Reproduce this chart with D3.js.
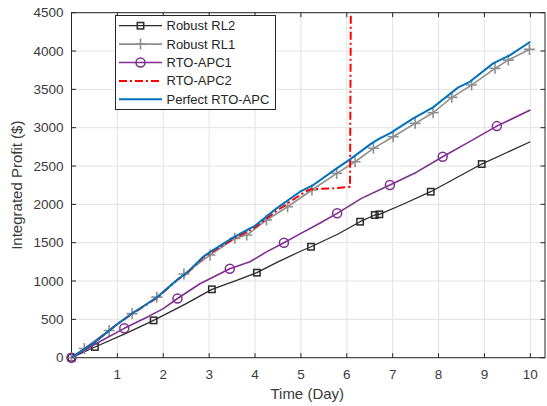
<!DOCTYPE html>
<html>
<head>
<meta charset="utf-8">
<script src="https://cdn.jsdelivr.net/npm/d3@7"></script>
<style>
  body { margin: 0; background: #fff; }
  text { font-family: "Liberation Sans", Arial, sans-serif; }
</style>
</head>
<body>
<svg id="chart"></svg>
<script>
// values: [day, profit]
const robustRL2 = [[0,0],[0.51,140],[1.2,320],[1.79,487],[2.5,705],[3.06,892],[3.6,1010],[4.04,1109],[4.5,1250],[4.98,1385],[5.22,1447],[5.8,1610],[6.29,1774],[6.61,1861],[6.71,1870],[7.2,1995],[7.83,2165],[8.4,2350],[8.94,2526],[9.5,2680],[10,2817]];
const robustRL2Marks = [0,1,3,5,7,10,12,13,14,16,18];

const robustRL1 = [[0,0],[0.28,120],[0.82,355],[1.32,575],[1.86,790],[2.45,1091],[3.02,1339],[3.56,1557],[3.82,1600],[4.25,1796],[4.71,1969],[5.24,2187],[5.78,2404],[6.18,2556],[6.58,2731],[7.01,2882],[7.49,3057],[7.88,3195],[8.29,3396],[8.72,3556],[9.23,3774],[9.52,3882],[9.98,4021]];

const rtoAPC1 = [[0,0],[0.48,166],[1.15,383],[1.7,545],[2.0,640],[2.31,772],[2.8,965],[3.45,1161],[3.89,1252],[4.25,1380],[4.63,1500],[5.0,1622],[5.4,1750],[5.79,1883],[6.32,2078],[6.94,2252],[7.52,2420],[8.09,2621],[8.61,2796],[9.27,3021],[10,3230]];
const rtoAPC1Marks = [0,2,5,7,10,13,15,17,19];

const rtoAPC2 = [[0,0],[0.25,100],[0.5,200],[0.75,320],[1,440],[1.35,585],[1.5,640],[1.86,780],[2.33,1025],[2.5,1090],[2.87,1305],[3,1355],[3.53,1550],[3.89,1665],[4,1700],[4.47,1915],[4.98,2122],[5.2,2196],[5.71,2209],[6.07,2230],[6.09,4800]];

const perfectAPC = [[0,0],[0.25,100],[0.5,200],[0.75,320],[1,440],[1.35,590],[1.5,645],[1.86,785],[2.33,1030],[2.5,1100],[2.87,1317],[3,1370],[3.53,1570],[3.89,1687],[4,1720],[4.47,1948],[4.98,2165],[5.27,2252],[5.78,2470],[6.07,2587],[6.54,2796],[6.72,2861],[6.94,2926],[7.45,3122],[7.88,3265],[8.17,3404],[8.43,3526],[8.68,3599],[9.19,3839],[9.56,3947],[10,4121]];

const xTicks = [1,2,3,4,5,6,7,8,9,10];
const yTicks = [0,500,1000,1500,2000,2500,3000,3500,4000,4500];
const legendNames = ["Robust RL2", "Robust RL1", "RTO-APC1", "RTO-APC2", "Perfect RTO-APC"];

const W = 547, H = 406;
const box = { left: 71.5, right: 545, top: 12.7, bottom: 357.7 };
const axisColor = "#262626";

const svg = d3.select("#chart").attr("width", W).attr("height", H);
svg.append("rect").attr("width", W).attr("height", H).attr("fill", "#fff");

const x = d3.scaleLinear().domain([0, 10.32]).range([box.left, box.right]);
const y = d3.scaleLinear().domain([0, 4500]).range([box.bottom, box.top]);

// grid
const grid = svg.append("g").attr("stroke", "#e3e3e3").attr("stroke-width", 1);
grid.selectAll("line.gx").data(xTicks).enter().append("line")
  .attr("x1", d => x(d)).attr("x2", d => x(d))
  .attr("y1", box.top).attr("y2", box.bottom);
grid.selectAll("line.gy").data(yTicks).enter().append("line")
  .attr("x1", box.left).attr("x2", box.right)
  .attr("y1", d => y(d)).attr("y2", d => y(d));

svg.append("clipPath").attr("id", "plotclip")
  .append("rect")
  .attr("x", box.left).attr("y", box.top)
  .attr("width", box.right - box.left).attr("height", box.bottom - box.top);

const plot = svg.append("g");
const line = d3.line().x(d => x(d[0])).y(d => y(d[1]));

const styles = [
  { data: robustRL2, color: "#2b2b2b", width: 1.3, dash: null, marker: "square", marks: robustRL2Marks },
  { data: robustRL1, color: "#8f8f8f", width: 1.6, dash: null, marker: "plus", marks: robustRL1.map((d, i) => i) },
  { data: rtoAPC1, color: "#7E2F8E", width: 1.6, dash: null, marker: "circle", marks: rtoAPC1Marks },
  { data: rtoAPC2, color: "#FF0000", width: 2, dash: "8,3,2,3", marker: null, marks: [] },
  { data: perfectAPC, color: "#0072BD", width: 2, dash: null, marker: null, marks: [] }
];

function drawMarker(g, type, color, cx, cy) {
  if (type === "square") {
    g.append("rect").attr("x", cx - 3.2).attr("y", cy - 3.2)
      .attr("width", 6.4).attr("height", 6.4)
      .attr("fill", "none").attr("stroke", color).attr("stroke-width", 1.5);
  } else if (type === "plus") {
    g.append("path")
      .attr("d", `M${cx - 5.5},${cy}H${cx + 5.5}M${cx},${cy - 5.5}V${cy + 5.5}`)
      .attr("stroke", color).attr("stroke-width", 1.6);
  } else if (type === "circle") {
    g.append("circle").attr("cx", cx).attr("cy", cy).attr("r", 4.5)
      .attr("fill", "none").attr("stroke", color).attr("stroke-width", 1.5);
  }
}

styles.forEach(s => {
  plot.append("path")
    .datum(s.data)
    .attr("clip-path", "url(#plotclip)")
    .attr("d", line)
    .attr("fill", "none")
    .attr("stroke", s.color)
    .attr("stroke-width", s.width)
    .attr("stroke-linejoin", "round")
    .attr("stroke-dasharray", s.dash);
  const mg = plot.append("g");
  s.marks.forEach(i => drawMarker(mg, s.marker, s.color, x(s.data[i][0]), y(s.data[i][1])));
});

// axes box and ticks
const ax = svg.insert("g", "g:nth-of-type(2)").attr("stroke", axisColor).attr("stroke-width", 1).attr("fill", "none");
ax.append("rect")
  .attr("x", box.left).attr("y", box.top)
  .attr("width", box.right - box.left).attr("height", box.bottom - box.top);
xTicks.forEach(t => {
  ax.append("line").attr("x1", x(t)).attr("x2", x(t)).attr("y1", box.bottom).attr("y2", box.bottom - 4.5);
  ax.append("line").attr("x1", x(t)).attr("x2", x(t)).attr("y1", box.top).attr("y2", box.top + 4.5);
});
yTicks.forEach(t => {
  ax.append("line").attr("x1", box.left).attr("x2", box.left + 4.5).attr("y1", y(t)).attr("y2", y(t));
  ax.append("line").attr("x1", box.right).attr("x2", box.right - 4.5).attr("y1", y(t)).attr("y2", y(t));
});

const labels = svg.append("g").attr("fill", "#3a3a3a").attr("font-size", "13.5px");
labels.selectAll("text.xt").data(xTicks).enter().append("text")
  .attr("x", d => x(d)).attr("y", 378.5)
  .attr("text-anchor", "middle").text(d => d);
labels.selectAll("text.yt").data(yTicks).enter().append("text")
  .attr("x", 63.5).attr("y", d => y(d)).attr("dy", "0.35em")
  .attr("text-anchor", "end").text(d => d);

svg.append("text")
  .attr("x", (box.left + x(10.32)) / 2 - 1).attr("y", 398.5)
  .attr("text-anchor", "middle").attr("font-size", "15px").attr("fill", "#3a3a3a")
  .text("Time (Day)");
svg.append("text")
  .attr("transform", `translate(22,${(box.top + box.bottom) / 2}) rotate(-90)`)
  .attr("text-anchor", "middle").attr("font-size", "15px").attr("fill", "#3a3a3a")
  .text("Integrated Profit ($)");

// legend
const lg = svg.append("g");
lg.append("rect")
  .attr("x", 115.5).attr("y", 15.5).attr("width", 160).attr("height", 94)
  .attr("fill", "#fff").attr("stroke", axisColor).attr("stroke-width", 1);
styles.forEach((s, i) => {
  const ly = 25.7 + i * 18.4;
  lg.append("line").attr("x1", 119).attr("x2", 162).attr("y1", ly).attr("y2", ly)
    .attr("stroke", s.color).attr("stroke-width", s.width).attr("stroke-dasharray", s.dash);
  if (s.marker) drawMarker(lg, s.marker, s.color, 140.5, ly);
  lg.append("text").attr("x", 166.5).attr("y", ly).attr("dy", "0.35em")
    .attr("font-size", "13px").attr("fill", "#262626").text(legendNames[i]);
});
</script>
</body>
</html>
